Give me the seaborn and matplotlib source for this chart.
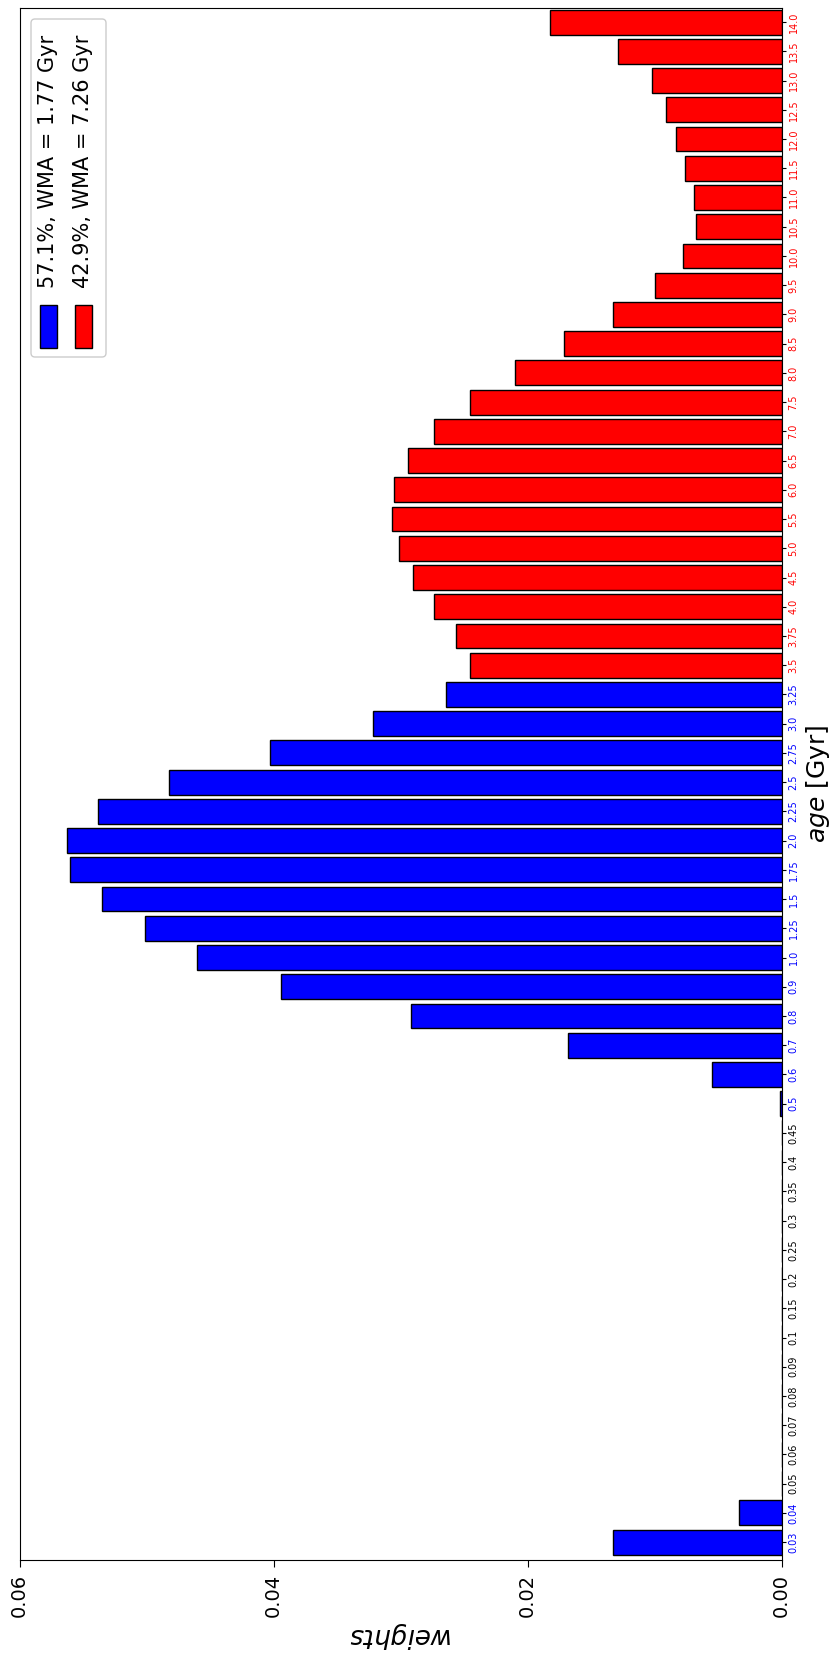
import numpy as np
import pandas as pd
import matplotlib
matplotlib.use('Agg')
import matplotlib.pyplot as plt
from matplotlib.patches import Rectangle, FancyBboxPatch
import seaborn as sns

# age bins (Gyr) and fitted weights
ages = ['0.03', '0.04', '0.05', '0.06', '0.07', '0.08', '0.09', '0.1', '0.15', '0.2',
        '0.25', '0.3', '0.35', '0.4', '0.45', '0.5', '0.6', '0.7', '0.8', '0.9',
        '1.0', '1.25', '1.5', '1.75', '2.0', '2.25', '2.5', '2.75', '3.0', '3.25',
        '3.5', '3.75', '4.0', '4.5', '5.0', '5.5', '6.0', '6.5', '7.0', '7.5',
        '8.0', '8.5', '9.0', '9.5', '10.0', '10.5', '11.0', '11.5', '12.0', '12.5',
        '13.0', '13.5', '14.0']
weights = [0.0133, 0.00336, 0, 0, 0, 0, 0, 0, 0, 0,
           0, 0, 0, 0, 0, 0.00015, 0.0055, 0.0168, 0.0292, 0.0394,
           0.0460, 0.0501, 0.0535, 0.0560, 0.0563, 0.0538, 0.0482, 0.0403, 0.0322, 0.0264,
           0.0245, 0.0256, 0.0274, 0.0290, 0.0301, 0.0307, 0.0305, 0.0294, 0.0274, 0.0245,
           0.0210, 0.0171, 0.0133, 0.0100, 0.0078, 0.00675, 0.0069, 0.0076, 0.0083, 0.0091,
           0.0102, 0.0129, 0.0182]
split_age = 3.5
legend_labels = ['57.1%, WMA = 1.77 Gyr', '42.9%, WMA = 7.26 Gyr']

df = pd.DataFrame({'age': ages, 'weight': weights})
df['group'] = np.where(df['age'].astype(float) < split_age, 'young', 'old')
colors = {'young': 'blue', 'old': 'red'}

fig = plt.figure(figsize=(8.35, 16.72), dpi=100)
ax = fig.add_axes([0.0234, 0.067, 0.9127, 0.928])

sns.barplot(data=df, x='weight', y='age', hue='group', order=ages, palette=colors,
            saturation=1, dodge=False, width=0.85, edgecolor='black', linewidth=1,
            orient='h', legend=False, ax=ax)

ax.set_xlim(0.06, 0.0)
ax.set_ylim(-0.61, 52.47)
ax.set_xticks([0.0, 0.02, 0.04, 0.06])
ax.set_xticklabels(['0.00', '0.02', '0.04', '0.06'])
ax.tick_params(axis='x', labelrotation=90, labelsize=14, length=5, pad=5)
ax.set_xlabel('$weights$', rotation=180, fontsize=19, labelpad=2)

# age axis on the right, labels colored by group
ax.yaxis.tick_right()
ax.yaxis.set_label_position('right')
ax.tick_params(axis='y', labelrotation=90, labelsize=7, length=3, pad=2)
for lab, (_, row) in zip(ax.get_yticklabels(), df.iterrows()):
    lab.set_va('center')
    if row['weight'] > 0:
        lab.set_color(colors[row['group']])
    else:
        lab.set_color('black')
ax.set_ylabel('$age$ [Gyr]', rotation=90, fontsize=18, labelpad=4)

# rotated legend drawn by hand (inches, figure coords)
tr = fig.dpi_scale_trans
fig.patches.append(FancyBboxPatch((0.31, 13.15), 0.75, 3.38,
                                  boxstyle='round,pad=0,rounding_size=0.04',
                                  transform=tr, facecolor='white', edgecolor='0.8',
                                  linewidth=1, figure=fig))
for i, (lbl, grp) in enumerate(zip(legend_labels, ['young', 'old'])):
    x0 = 0.40 + i * 0.35
    fig.patches.append(Rectangle((x0, 13.24), 0.17, 0.43, transform=tr,
                                 facecolor=colors[grp], edgecolor='black',
                                 linewidth=1, figure=fig))
    fig.text(x0 + 0.08, 13.84, lbl, rotation=90, ha='center', va='bottom',
             fontsize=15, transform=tr)

fig.savefig('out.png', dpi=100)
